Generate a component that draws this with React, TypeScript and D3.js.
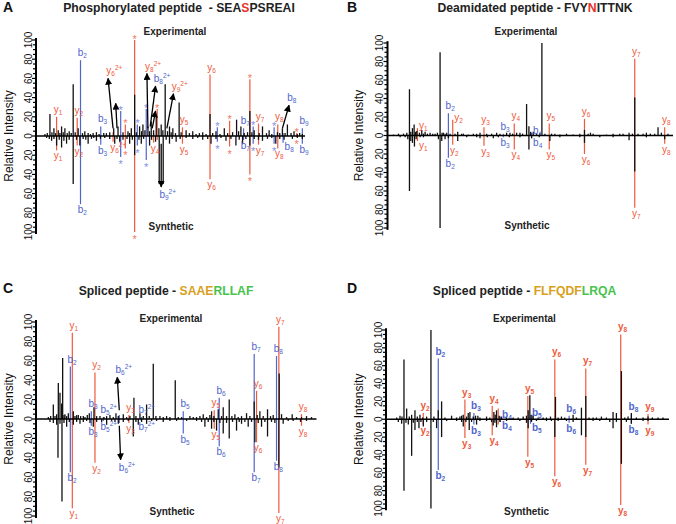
import React from 'react';
import * as d3 from 'd3';

// ---------- DATA (x in plot units along the m/z axis, intensity in %) ----------
type Pk = [number, number];
type Ion = { x: number; exp: number; syn: number; kind: 'y' | 'b'; up: string; dn: string; side?: 'up' | 'dn' | 'both' };
type Arr = { x1: number; y1: number; x2: number; y2: number; label: string; kind: 'y' | 'b' };

// Panel A – Phosphorylated peptide
const expA: Pk[] = [[45,2],[52,3],[60,23],[66,4],[72,8],[77,3],[85,6],[90,3],[95,10],[100,4],[105,8],[112,3],[118,5],[124,3],[130,54],[136,4],[145,8],[158,3],[165,5],[175,3],[182,2],[190,3],[200,4],[208,2],[222,3],[230,3],[240,4],[252,8],[265,10],[280,4],[295,5],[300,3],[305,8],[315,43],[320,4],[330,10],[336,5],[340,12],[346,6],[355,10],[360,5],[365,15],[372,6],[380,20],[388,8],[395,12],[400,6],[407,54],[414,5],[420,10],[425,4],[430,8],[438,3],[449,35],[455,4],[470,6],[480,3],[490,5],[500,2],[510,3],[520,4],[530,2],[542,23],[550,3],[560,5],[572,2],[585,8],[595,3],[610,4],[622,17],[628,5],[635,10],[645,3],[655,4],[662,26],[668,4],[675,6],[690,3],[700,10],[712,3],[720,6],[728,2],[745,4],[752,3],[760,8],[768,3],[775,12],[786,3],[795,5],[805,2],[812,3],[820,2]];
const synA: Pk[] = [[50,2],[58,3],[65,5],[72,3],[80,10],[88,4],[95,12],[102,5],[110,8],[118,4],[130,50],[140,4],[150,10],[160,3],[168,4],[175,8],[185,3],[192,2],[200,5],[212,3],[225,2],[240,3],[255,8],[262,3],[270,6],[280,4],[292,3],[300,8],[308,4],[315,20],[328,4],[335,8],[342,3],[360,10],[366,4],[378,6],[389,50],[401,50],[410,4],[420,8],[428,3],[440,6],[452,3],[470,2],[490,3],[505,2],[520,4],[535,3],[545,8],[560,3],[575,2],[590,5],[605,3],[620,10],[630,4],[640,8],[650,3],[662,10],[675,3],[688,4],[700,5],[715,3],[728,2],[740,8],[752,3],[765,4],[790,3],[805,2],[820,3]];
const ionsA: Ion[] = [
  { x: 80, exp: 20, syn: 15, kind: 'y', up: 'y1', dn: 'y1' },
  { x: 142, exp: 19, syn: 10, kind: 'y', up: 'y2', dn: 'y2' },
  { x: 152, exp: 79, syn: 71, kind: 'b', up: 'b2', dn: 'b2' },
  { x: 213, exp: 10, syn: 9, kind: 'b', up: 'b3', dn: 'b3' },
  { x: 250, exp: 4, syn: 6, kind: 'y', up: '', dn: 'y6^2+' },
  { x: 273, exp: 26, syn: 22, kind: 'b', up: '*', dn: '*' },
  { x: 287, exp: 12, syn: 13, kind: 'y', up: '*', dn: '*' },
  { x: 315, exp: 100, syn: 100, kind: 'y', up: '*', dn: '*' },
  { x: 323, exp: 12, syn: 10, kind: 'b', up: '*', dn: '*' },
  { x: 350, exp: 28, syn: 25, kind: 'b', up: '*', dn: '*' },
  { x: 372, exp: 3, syn: 7, kind: 'y', up: '', dn: 'y4' },
  { x: 383, exp: 28, syn: 4, kind: 'y', up: '*', dn: '' },
  { x: 459, exp: 9, syn: 8, kind: 'y', up: 'y5', dn: 'y5' },
  { x: 542, exp: 64, syn: 45, kind: 'y', up: 'y6', dn: 'y6' },
  { x: 564, exp: 9, syn: 6, kind: 'b', up: '*', dn: '*' },
  { x: 601, exp: 16, syn: 11, kind: 'y', up: '*', dn: '*' },
  { x: 643, exp: 8, syn: 4, kind: 'b', up: 'b7', dn: 'b7' },
  { x: 662, exp: 59, syn: 40, kind: 'y', up: '*', dn: '*' },
  { x: 672, exp: 10, syn: 8, kind: 'b', up: '*', dn: '*' },
  { x: 688, exp: 13, syn: 9, kind: 'y', up: 'y7', dn: 'y7' },
  { x: 735, exp: 9, syn: 8, kind: 'b', up: '*', dn: '*' },
  { x: 746, exp: 12, syn: 13, kind: 'y', up: 'y8', dn: 'y8' },
  { x: 762, exp: 3, syn: 7, kind: 'b', up: '', dn: 'b8', side: 'dn' },
  { x: 803, exp: 3, syn: 1, kind: 'y', up: '*', dn: '*' },
  { x: 820, exp: 8, syn: 8, kind: 'b', up: 'b9', dn: 'b9' },
];
const arrowsA: Arr[] = [
  { x1: 250, y1: 8, x2: 235, y2: 60, label: 'y6^2+', kind: 'y' },
  { x1: 262, y1: 8, x2: 258, y2: 34, label: '', kind: 'y' },
  { x1: 355, y1: 8, x2: 352, y2: 65, label: 'y8^2+', kind: 'y' },
  { x1: 362, y1: 10, x2: 378, y2: 52, label: 'b8^2+', kind: 'b' },
  { x1: 368, y1: 8, x2: 378, y2: 26, label: '', kind: 'b' },
  { x1: 412, y1: 8, x2: 432, y2: 44, label: 'y9^2+', kind: 'y' },
  { x1: 760, y1: 8, x2: 780, y2: 32, label: 'b8', kind: 'b' },
  { x1: 395, y1: -8, x2: 395, y2: -53, label: 'b9^2+', kind: 'b' },
];

// Panel B – Deamidated peptide
const expB: Pk[] = [[40,1],[55,2],[70,2],[80,3],[88,50],[92,4],[97,8],[102,12],[106,4],[110,5],[118,3],[125,6],[130,2],[135,4],[142,2],[150,3],[158,2],[165,2],[172,3],[180,90],[186,3],[190,3],[195,2],[200,3],[210,2],[225,2],[233,4],[245,2],[250,2],[265,1],[280,2],[290,2],[300,3],[320,2],[335,2],[350,3],[360,2],[380,3],[390,3],[398,2],[410,3],[420,3],[428,2],[440,34],[447,10],[452,4],[460,4],[470,2],[480,3],[486,100],[495,2],[515,2],[525,2],[540,1],[560,2],[580,1],[600,2],[614,6],[625,2],[632,3],[640,2],[680,1],[700,2],[720,2],[730,2],[748,3],[758,2],[765,41],[775,2],[790,2],[800,3],[812,2],[825,2],[835,9],[845,3],[865,2]];
const synB: Pk[] = [[60,2],[75,2],[83,4],[88,60],[92,6],[97,8],[103,12],[108,4],[120,2],[130,2],[175,4],[180,100],[185,6],[195,4],[205,3],[233,6],[260,2],[290,2],[300,3],[322,2],[340,3],[355,2],[388,2],[420,2],[447,15],[455,3],[478,2],[510,6],[540,2],[600,2],[614,8],[660,2],[700,2],[748,5],[765,39],[800,2],[855,4]];
const ionsB: Ion[] = [
  { x: 112, exp: 8, syn: 6, kind: 'y', up: 'y1', dn: 'y1', side: 'both' },
  { x: 205, exp: 24, syn: 24, kind: 'b', up: 'b2', dn: 'b2' },
  { x: 218, exp: 17, syn: 10, kind: 'y', up: 'y2', dn: 'y2', side: 'up' },
  { x: 312, exp: 9, syn: 11, kind: 'y', up: 'y3', dn: 'y3' },
  { x: 370, exp: 2, syn: 2, kind: 'b', up: 'b3', dn: 'b3' },
  { x: 403, exp: 13, syn: 15, kind: 'y', up: 'y4', dn: 'y4' },
  { x: 455, exp: 3, syn: 3, kind: 'b', up: 'b4', dn: 'b4', side: 'both' },
  { x: 508, exp: 13, syn: 15, kind: 'y', up: 'y5', dn: 'y5' },
  { x: 614, exp: 18, syn: 20, kind: 'y', up: 'y6', dn: 'y6' },
  { x: 765, exp: 83, syn: 78, kind: 'y', up: 'y7', dn: 'y7' },
  { x: 855, exp: 9, syn: 9, kind: 'y', up: 'y8', dn: 'y8' },
];
const arrowsB: Arr[] = [];

// Panel C – Spliced peptide SAAERLLAF
const expC: Pk[] = [[55,2],[62,3],[70,15],[75,3],[80,5],[85,37],[90,27],[95,16],[98,63],[102,4],[105,5],[110,3],[115,6],[130,8],[135,3],[140,4],[145,4],[152,3],[160,3],[165,2],[172,4],[178,6],[192,12],[200,3],[210,3],[222,2],[230,3],[240,4],[250,2],[258,6],[265,3],[280,5],[290,2],[300,3],[312,22],[318,3],[330,6],[340,3],[350,15],[358,3],[370,57],[378,3],[390,3],[400,2],[410,3],[420,2],[436,40],[445,2],[455,2],[480,3],[490,2],[500,2],[510,3],[520,5],[530,2],[540,4],[545,8],[552,3],[565,10],[575,3],[580,12],[590,3],[598,20],[606,3],[615,5],[625,2],[635,3],[650,6],[660,3],[673,18],[682,4],[690,8],[700,3],[713,10],[722,3],[730,4],[748,47],[755,5],[770,2],[787,5],[800,2],[815,2],[830,3],[845,2]];
const synC: Pk[] = [[60,3],[70,4],[80,6],[84,40],[90,5],[96,85],[102,4],[110,8],[118,3],[130,6],[140,3],[150,5],[160,3],[170,2],[180,4],[190,8],[200,3],[215,3],[230,6],[245,2],[255,3],[265,5],[280,3],[295,2],[310,18],[318,3],[325,6],[335,3],[350,5],[365,2],[380,2],[400,3],[420,2],[440,2],[470,2],[500,2],[515,3],[525,8],[535,3],[545,10],[552,3],[560,12],[570,4],[580,15],[590,4],[598,20],[608,3],[620,12],[628,3],[635,5],[645,3],[655,8],[665,3],[675,24],[685,4],[695,8],[705,3],[713,18],[725,3],[735,4],[747,50],[760,5],[775,2],[790,2],[812,3],[830,2]];
const ionsC: Ion[] = [
  { x: 121, exp: 54, syn: 55, kind: 'b', up: 'b2', dn: 'b2' },
  { x: 127, exp: 89, syn: 92, kind: 'y', up: 'y1', dn: 'y1' },
  { x: 184, exp: 8, syn: 7, kind: 'b', up: 'b3', dn: 'b3' },
  { x: 195, exp: 48, syn: 45, kind: 'y', up: 'y2', dn: 'y2' },
  { x: 220, exp: 2, syn: 2, kind: 'b', up: 'b5^2+', dn: 'b5^2+' },
  { x: 268, exp: 4, syn: 4, kind: 'b', up: '', dn: '' },
  { x: 297, exp: 4, syn: 4, kind: 'y', up: 'y3', dn: 'y3' },
  { x: 334, exp: 2, syn: 2, kind: 'b', up: 'b7^2+', dn: 'b7^2+' },
  { x: 460, exp: 8, syn: 15, kind: 'b', up: 'b5', dn: 'b5' },
  { x: 553, exp: 9, syn: 10, kind: 'y', up: 'y5', dn: 'y5' },
  { x: 568, exp: 22, syn: 28, kind: 'b', up: 'b6', dn: 'b6' },
  { x: 673, exp: 67, syn: 55, kind: 'b', up: 'b7', dn: 'b7' },
  { x: 680, exp: 29, syn: 24, kind: 'y', up: 'y6', dn: 'y6' },
  { x: 740, exp: 65, syn: 43, kind: 'b', up: 'b8', dn: 'b8' },
  { x: 747, exp: 95, syn: 97, kind: 'y', up: 'y7', dn: 'y7' },
  { x: 815, exp: 5, syn: 7, kind: 'y', up: 'y8', dn: 'y8' },
];
const arrowsC: Arr[] = [
  { x1: 268, y1: 9, x2: 262, y2: 43, label: 'b6^2+', kind: 'b' },
  { x1: 268, y1: -7, x2: 272, y2: -42, label: 'b6^2+', kind: 'b' },
];

// Panel D – Spliced peptide FLFQDFLRQA
const expD: Pk[] = [[50,2],[60,4],[66,3],[72,67],[80,12],[88,3],[95,5],[105,10],[112,3],[120,5],[128,2],[140,3],[153,100],[162,3],[175,10],[185,20],[195,2],[215,4],[230,2],[240,3],[245,4],[250,5],[260,3],[265,7],[270,8],[280,3],[287,4],[294,4],[300,2],[320,3],[330,2],[342,8],[346,5],[350,10],[358,4],[365,3],[380,2],[400,2],[415,2],[430,3],[440,4],[445,10],[450,27],[456,5],[460,4],[475,2],[490,2],[500,2],[512,3],[527,25],[535,2],[545,3],[555,2],[580,5],[590,2],[605,13],[618,26],[628,2],[640,2],[650,2],[665,3],[680,2],[700,8],[710,7],[725,54],[735,2],[745,3],[755,7],[770,2],[790,2],[805,3],[818,2],[835,2],[850,2]];
const synD: Pk[] = [[55,3],[65,5],[72,80],[78,4],[85,6],[95,41],[100,4],[105,12],[112,3],[117,10],[123,3],[130,8],[140,3],[153,100],[160,3],[170,10],[185,20],[200,2],[230,2],[245,3],[250,8],[258,3],[268,12],[275,3],[290,6],[300,2],[320,2],[335,3],[340,7],[345,4],[350,9],[360,3],[380,2],[420,2],[440,4],[445,10],[455,3],[470,2],[500,2],[515,2],[525,20],[535,2],[560,2],[580,3],[605,18],[618,20],[640,2],[660,2],[690,3],[700,10],[710,3],[725,50],[740,3],[755,5],[790,2],[805,2]];
const ionsD: Ion[] = [
  { x: 130, exp: 7, syn: 6, kind: 'y', up: 'y2', dn: 'y2' },
  { x: 175, exp: 68, syn: 57, kind: 'b', up: 'b2', dn: 'b2' },
  { x: 255, exp: 22, syn: 21, kind: 'y', up: 'y3', dn: 'y3' },
  { x: 282, exp: 7, syn: 6, kind: 'b', up: 'b3', dn: 'b3' },
  { x: 337, exp: 15, syn: 18, kind: 'y', up: 'y4', dn: 'y4' },
  { x: 355, exp: 12, syn: 6, kind: 'y', up: '', dn: '' },
  { x: 362, exp: 3, syn: 3, kind: 'b', up: 'b4', dn: 'b4', side: 'both' },
  { x: 444, exp: 26, syn: 42, kind: 'y', up: 'y5', dn: 'y5' },
  { x: 452, exp: 5, syn: 5, kind: 'b', up: 'b5', dn: 'b5', side: 'both' },
  { x: 525, exp: 67, syn: 64, kind: 'y', up: 'y6', dn: 'y6' },
  { x: 568, exp: 4, syn: 4, kind: 'b', up: 'b6', dn: 'b6' },
  { x: 618, exp: 57, syn: 51, kind: 'y', up: 'y7', dn: 'y7' },
  { x: 723, exp: 95, syn: 96, kind: 'y', up: 'y8', dn: 'y8' },
  { x: 755, exp: 6, syn: 5, kind: 'b', up: 'b8', dn: 'b8' },
  { x: 805, exp: 6, syn: 6, kind: 'y', up: 'y9', dn: 'y9' },
];
const arrowsD: Arr[] = [];

const yTickValues = [-100, -80, -60, -40, -20, 0, 20, 40, 60, 80, 100];

// ---------- STYLE ----------
const FONT = "'Liberation Sans', Arial, Helvetica, sans-serif";
const RED = '#ee5a3c';
const BLUE = '#4f65cc';
const TITLE_RED = '#e8312a';
const GOLD = '#d8a01c';
const GREEN = '#48c34c';
const DARK = '#222';

type PanelCfg = {
  letter: string;
  title: [string, string][];
  titleX: number; titleY: number; letterX: number; letterY: number;
  xDomain: [number, number]; xRange: [number, number];
  yTop: number; yBot: number;
  expX: number; expY: number; synX: number; synY: number; labelX: number; boldIons: boolean;
  exp: Pk[]; syn: Pk[]; ions: Ion[]; arrows: Arr[];
};

const panels: PanelCfg[] = [
  { letter: 'A', title: [['Phosphorylated peptide  - SEA', DARK], ['S', TITLE_RED], ['PSREAI', DARK]],
    titleX: 179, titleY: 12, letterX: 3, letterY: 12,
    xDomain: [18, 828], xRange: [36, 305], yTop: 40, yBot: 232,
    expX: 175, expY: 35, synX: 171, synY: 230, labelX: 12.8, boldIons: false,
    exp: expA, syn: synA, ions: ionsA, arrows: arrowsA },
  { letter: 'B', title: [['Deamidated peptide - FVY', DARK], ['N', TITLE_RED], ['ITTNK', DARK]],
    titleX: 535, titleY: 12, letterX: 347, letterY: 12,
    xDomain: [22, 880], xRange: [387.5, 673], yTop: 43, yBot: 228,
    expX: 526, expY: 35, synX: 527, synY: 229, labelX: 362.5, boldIons: false,
    exp: expB, syn: synB, ions: ionsB, arrows: arrowsB },
  { letter: 'C', title: [['Spliced peptide - ', DARK], ['SAAE', GOLD], ['RLLAF', GREEN]],
    titleX: 166, titleY: 295, letterX: 3, letterY: 293,
    xDomain: [18, 860], xRange: [36, 316.5], yTop: 322, yBot: 516,
    expX: 171, expY: 322, synX: 172, synY: 515, labelX: 12.8, boldIons: false,
    exp: expC, syn: synC, ions: ionsC, arrows: arrowsC },
  { letter: 'D', title: [['Spliced peptide - ', DARK], ['FLFQDF', GOLD], ['LRQA', GREEN]],
    titleX: 524.5, titleY: 295, letterX: 347, letterY: 293,
    xDomain: [18, 868], xRange: [386, 669], yTop: 330, yBot: 508.5,
    expX: 524.5, expY: 322, synX: 526.5, synY: 515, labelX: 362.5, boldIons: true,
    exp: expD, syn: synD, ions: ionsD, arrows: arrowsD },
];

// Label whose main letter is centred on x (subscript / charge hang to the right)
function IonLabel({ label, x, y, color, bold, start }: { label: string; x: number; y: number; color: string; bold: boolean; start?: boolean }) {
  if (!label) return null;
  if (label === '*') {
    return <text x={x} y={y} textAnchor="middle" fill={color} fontSize={11} fontFamily={FONT}>*</text>;
  }
  const m = label.match(/^([a-z])(\d+)(?:\^(.+))?$/);
  if (!m) return null;
  const tx = start ? x : x - 2.8;
  return (
    <text x={tx} y={y} textAnchor="start" fill={color} fontSize={10} fontFamily={FONT} fontWeight={bold ? 'bold' : 'normal'}>
      <tspan>{m[1]}</tspan>
      <tspan fontSize={6.5} dy={2}>{m[2]}</tspan>
      {m[3] ? <tspan fontSize={6.5} dy={-6}>{m[3]}</tspan> : null}
    </text>
  );
}

function Panel({ p, idx }: { p: PanelCfg; idx: number }) {
  const x = d3.scaleLinear().domain(p.xDomain).range(p.xRange);
  const y = d3.scaleLinear().domain([-100, 100]).range([p.yBot, p.yTop]);
  const y0 = y(0);
  const ax = p.xRange[0];
  const minor = d3.range(-100, 101, 5);
  const col = (k: 'y' | 'b') => (k === 'y' ? RED : BLUE);
  const markerId = `arrow${idx}`;
  return (
    <g>
      <defs>
        <marker id={markerId} viewBox="0 0 10 10" refX={9} refY={5} markerWidth={7} markerHeight={7} markerUnits="userSpaceOnUse" orient="auto">
          <path d="M0,0 L10,5 L0,10 z" fill="#000" />
        </marker>
      </defs>
      {/* titles */}
      <text x={p.letterX} y={p.letterY} fontSize={14} fontWeight="bold" fontFamily={FONT} fill="#111">{p.letter}</text>
      <text x={p.titleX} y={p.titleY} textAnchor="middle" fontSize={12.2} fontWeight="bold" fontFamily={FONT} style={{ whiteSpace: 'pre' }}>
        {p.title.map(([t, c], i) => <tspan key={i} fill={c}>{t}</tspan>)}
      </text>
      <text x={p.expX} y={p.expY} textAnchor="middle" fontSize={10} fontWeight="bold" fontFamily={FONT} fill={DARK}>Experimental</text>
      <text x={p.synX} y={p.synY} textAnchor="middle" fontSize={10} fontWeight="bold" fontFamily={FONT} fill={DARK}>Synthetic</text>
      <text transform={`translate(${p.labelX},${y0}) rotate(-90)`} textAnchor="middle" fontSize={12} fontFamily={FONT} fill="#111">Relative Intensity</text>

      {/* annotated ions (colored) */}
      {p.ions.map((d, i) => (
        <g key={'ion' + i}>
          <line x1={x(d.x)} x2={x(d.x)} y1={y(0)} y2={y(d.exp)} stroke={col(d.kind)} strokeWidth={1.2} />
          <line x1={x(d.x)} x2={x(d.x)} y1={y(0)} y2={y(-d.syn)} stroke={col(d.kind)} strokeWidth={1.2} />
        </g>
      ))}

      {/* black peaks */}
      {p.exp.map(([mx, h], i) => (
        <line key={'e' + i} x1={x(mx)} x2={x(mx)} y1={y0} y2={y(h)} stroke="#111" strokeWidth={1.3} />
      ))}
      {p.syn.map(([mx, h], i) => (
        <line key={'s' + i} x1={x(mx)} x2={x(mx)} y1={y0} y2={y(-h)} stroke="#111" strokeWidth={1.3} />
      ))}

      {/* labels */}
      {p.ions.map((d, i) => {
        const c = d.kind === 'y' ? RED : BLUE;
        const starC = d.kind === 'y' ? '#f07a5c' : '#8191e4';
        const rUp = d.side === 'up' || d.side === 'both';
        const rDn = d.side === 'dn' || d.side === 'both';
        const upY = d.up === '*' ? y(d.exp) + 2.5 : rUp ? y(d.exp) + 1 : y(d.exp) - 4;
        const dnY = d.dn === '*' ? y(-d.syn) + 11 : rDn ? y(-d.syn) + 7.5 : y(-d.syn) + 9;
        return (
          <g key={'lab' + i}>
            <IonLabel label={d.up} x={rUp ? x(d.x) + 1.5 : x(d.x)} y={upY} color={d.up === '*' ? starC : c} bold={p.boldIons} start={rUp} />
            <IonLabel label={d.dn} x={rDn ? x(d.x) + 1.5 : x(d.x)} y={dnY} color={d.dn === '*' ? starC : c} bold={p.boldIons} start={rDn} />
          </g>
        );
      })}

      {/* arrows */}
      {p.arrows.map((a, i) => (
        <g key={'a' + i}>
          <line x1={x(a.x1)} y1={y(a.y1)} x2={x(a.x2)} y2={y(a.y2)} stroke="#000" strokeWidth={1.3} markerEnd={`url(#${markerId})`} />
          <IonLabel label={a.label} x={x(a.x2) + 1} y={a.y2 > 0 ? y(a.y2) - 4 : y(a.y2) + 11} color={col(a.kind)} bold={p.boldIons} />
        </g>
      ))}

      {/* baseline */}
      <line x1={ax} x2={p.xRange[1]} y1={y0} y2={y0} stroke="#000" strokeWidth={1.6} />
      {/* y axis */}
      <line x1={ax} x2={ax} y1={y(-102)} y2={y(102)} stroke="#000" strokeWidth={2} />
      {minor.map((v) => (
        <line key={'t' + v} x1={ax} x2={ax - (v % 20 === 0 ? 4 : 3)} y1={y(v)} y2={y(v)} stroke="#000" strokeWidth={1.2} />
      ))}
      {yTickValues.map((v) => (
        <text key={'tl' + v} transform={`translate(${ax - 4.5},${y(v)}) rotate(-90)`} textAnchor="middle" fontSize={10} fontFamily={FONT} fill="#111">
          {Math.abs(v)}
        </text>
      ))}
    </g>
  );
}

export default function App() {
  return (
    <svg width={676} height={524} viewBox="0 0 676 524" style={{ position: 'absolute', left: 0, top: 0, background: '#fff' }}>
      <rect width={676} height={524} fill="#fff" />
      {panels.map((p, i) => <Panel key={p.letter} p={p} idx={i} />)}
    </svg>
  );
}
